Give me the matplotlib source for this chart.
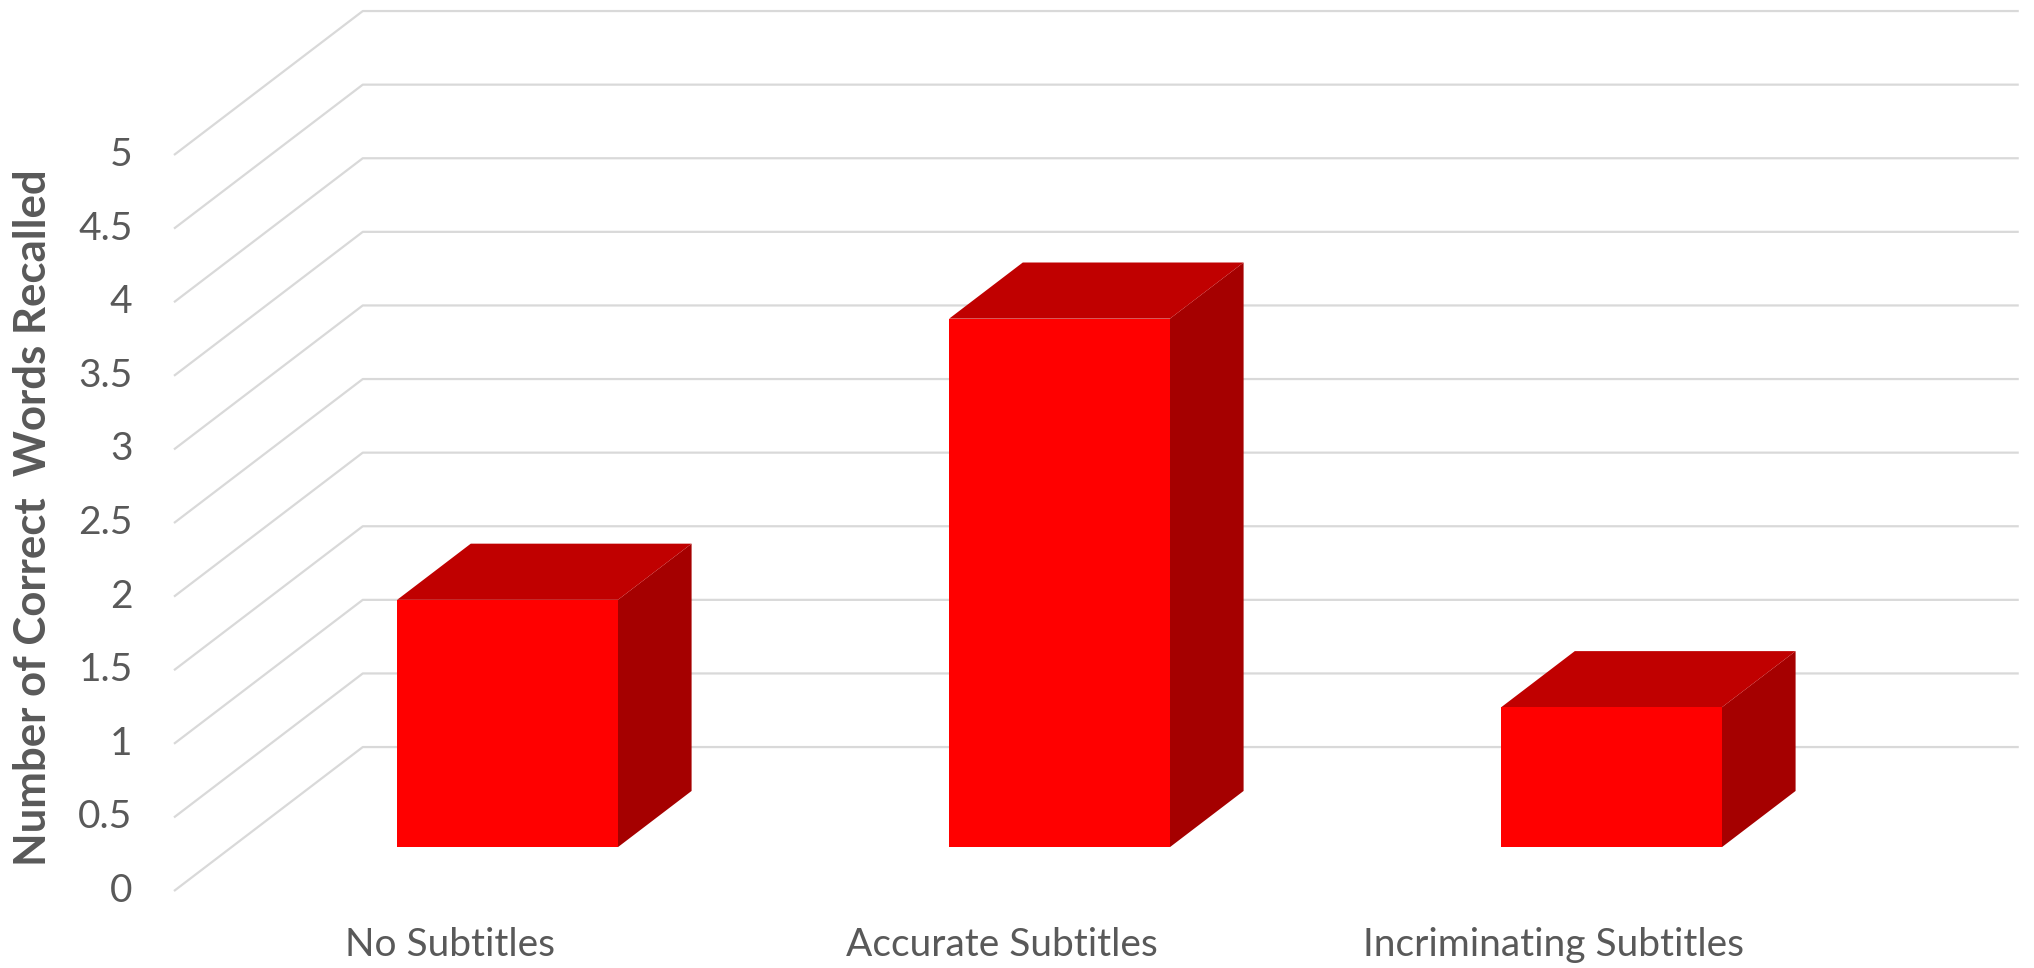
# Import the required libraries
import numpy as np
import matplotlib
matplotlib.use('Agg')
import matplotlib.pyplot as plt
from matplotlib.patches import Polygon

# Chart data
categories = ['No Subtitles', 'Accurate Subtitles', 'Incriminating Subtitles']
words_recalled = [1.68, 3.59, 0.95]
tick_values = [0, 0.5, 1, 1.5, 2, 2.5, 3, 3.5, 4, 4.5, 5]
tick_labels = ['0', '0.5', '1', '1.5', '2', '2.5', '3', '3.5', '4', '4.5', '5']

# Excel style oblique 3D: depth shift of the back wall in data units
DEPTH_X = 0.342
DEPTH_Y = 0.978
BAR_WIDTH = 0.4
BAR_FRONT = 0.305
BAR_BACK = 0.695

GRID = '#d9d9d9'
TEXT = '#595959'


def plot():
    plt.rcParams['font.family'] = ['Lato', 'DejaVu Sans']
    fig = plt.figure(figsize=(20.34, 9.68), dpi=100)
    ax = fig.add_axes([0, 0, 1, 1])
    ax.set_xlim(-0.3152, 3.3696)
    ax.set_ylim(-0.523, 6.053)
    ax.axis('off')

    n = len(categories)
    x_back_end = n + DEPTH_X

    # Gridlines: diagonal on the side wall, then across the back wall
    for v, lab in zip(tick_values, tick_labels):
        ax.plot([0, DEPTH_X, x_back_end], [v, v + DEPTH_Y, v + DEPTH_Y],
                color=GRID, lw=1.6, zorder=1, solid_capstyle='butt')
        ax.text(-0.075, v, lab, ha='right', va='center', fontsize=28,
                color=TEXT)

    # Bars as three faces each
    dd = BAR_BACK - BAR_FRONT
    for i, val in enumerate(words_recalled):
        xc = i + 0.5 + BAR_FRONT * DEPTH_X
        xl = xc - BAR_WIDTH / 2
        xr = xc + BAR_WIDTH / 2
        y0 = BAR_FRONT * DEPTH_Y
        sx = dd * DEPTH_X
        sy = dd * DEPTH_Y
        front = [(xl, y0), (xr, y0), (xr, y0 + val), (xl, y0 + val)]
        top = [(xl, y0 + val), (xr, y0 + val), (xr + sx, y0 + val + sy),
               (xl + sx, y0 + val + sy)]
        side = [(xr, y0), (xr + sx, y0 + sy), (xr + sx, y0 + val + sy),
                (xr, y0 + val)]
        ax.add_patch(Polygon(side, closed=True, facecolor='#a50000',
                             edgecolor='none', zorder=3))
        ax.add_patch(Polygon(top, closed=True, facecolor='#c00000',
                             edgecolor='none', zorder=3))
        ax.add_patch(Polygon(front, closed=True, facecolor='#ff0000',
                             edgecolor='none', zorder=4))

        # Category label under the front edge of the floor
        ax.text(i + 0.5, -0.37, categories[i], ha='center', va='center',
                fontsize=28, color=TEXT)

    fig.text(33 / 2034, 1 - 518 / 968, 'Number of Correct  Words Recalled',
             rotation=90, ha='center', va='center', fontsize=31.5,
             fontweight='bold', color=TEXT)

    fig.savefig('out.png', dpi=100)


if __name__ == '__main__':
    plot()
